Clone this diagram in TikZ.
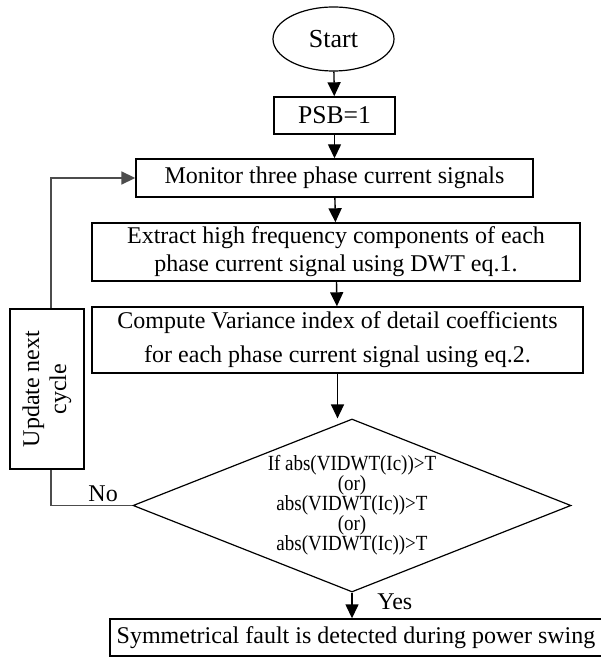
\documentclass[tikz,border=0pt]{standalone}
\usepackage{fontspec}
\setmainfont{Liberation Serif}
\newfontfamily\narrowserif[FakeStretch=0.88]{Liberation Serif}
\usetikzlibrary{arrows.meta,positioning,shapes.geometric}

\begin{document}
\begin{tikzpicture}[x=0.5pt,y=-0.5pt,>={Triangle[length=7pt,width=6.5pt]},
  font=\fontsize{12}{14}\selectfont,
  proc/.style={draw,line width=0.7pt,align=center,inner sep=0pt},
  term/.style={draw,ellipse,line width=0.6pt,inner sep=0pt,minimum width=60.5pt,minimum height=32pt},
  cond/.style={draw,diamond,line width=0.6pt,inner sep=0pt,shape aspect=2.53,align=center,
    font=\narrowserif\fontsize{10.8}{10}\selectfont},
  flow/.style={->,line width=0.7pt},
  loopline/.style={draw=black!70,line width=0.9pt}]
\useasboundingbox (0,0) rectangle (600,657);
\node[term,font=\fontsize{13}{15}\selectfont] (start) at (333.5,39) {Start};
\node[proc,minimum width=60.5pt,minimum height=18.5pt,font=\fontsize{12.8}{15}\selectfont] (psb) at (334.5,115.5) {PSB=1};
\node[proc,minimum width=198.5pt,minimum height=19pt] (mon) at (334.5,178) {Monitor three phase current signals};
\node[proc,minimum width=244pt,minimum height=29pt] (ext) at (336,252) {Extract high frequency components of each\\ phase current signal using DWT eq.1.};
\node[proc,minimum width=245.5pt,minimum height=33pt,font=\fontsize{12}{17}\selectfont] (cmp) at (337.5,340) {Compute Variance index of detail coefficients\\ for each phase current signal using eq.2.};
\node[cond,minimum width=219pt,minimum height=86.5pt] (dec) at (352,505.5) {If abs(VIDWT(Ic))>T\\ (or)\\ abs(VIDWT(Ic))>T\\ (or)\\ abs(VIDWT(Ic))>T};
\node[proc,minimum width=246pt,minimum height=18.5pt] (det) at (356,637.5) {Symmetrical fault is detected during power swing};
\node[proc,rotate=90,minimum width=80pt,minimum height=37pt,font=\fontsize{12}{13.5}\selectfont] (upd) at (47,389) {Update next\\ cycle};
% main flow
\draw[flow] (start) -- (psb);
\draw[flow] (psb) -- (mon);
\draw[flow] (mon) -- (ext);
\draw[flow] (ext) -- (cmp);
\draw[flow] (cmp.south) -- (cmp.south |- dec.north);
\draw[flow] (dec.south) -- (det.north -| dec.south) node[pos=0.37,right=9pt] {Yes};
% loop back
\draw[loopline] (dec.west) -| ([xshift=2pt]upd.west) node[pos=0.18,above,inner sep=1.5pt,text=black] {No};
\draw[loopline,->] ([xshift=2pt]upd.east) |- (mon.west);
\end{tikzpicture}
\end{document}
